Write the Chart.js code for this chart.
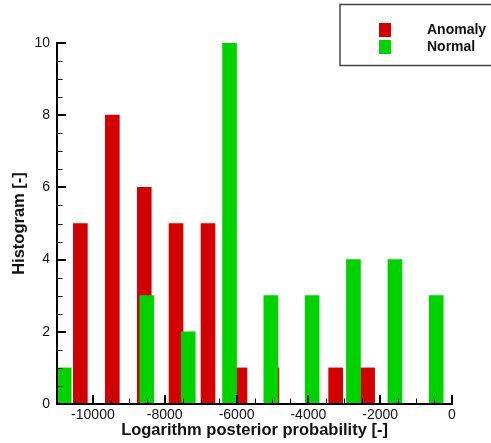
<!DOCTYPE html>
<html>
<head>
<meta charset="utf-8">
<script src="https://cdn.jsdelivr.net/npm/chart.js@4/dist/chart.umd.min.js"></script>
<style>
  html, body { margin: 0; padding: 0; background: #fff; }
  #wrap { width: 491px; height: 443px; }
</style>
</head>
<body>
<div id="wrap"><canvas id="histChart"></canvas></div>
<script>
// histogram bin centres and counts
const anomalyBins = [-10350, -9460, -8570, -7685, -6795, -5905, -5015, -4125, -3240, -2350];
const anomalyCounts = [5, 8, 6, 5, 5, 1, 1, 0, 1, 1];
const normalBins = [-10800, -9650, -8500, -7345, -6195, -5045, -3895, -2745, -1590, -440];
const normalCounts = [1, 0, 3, 2, 10, 3, 3, 4, 4, 3];

const xTickValues = [-10000, -8000, -6000, -4000, -2000, 0];
const yTickValues = [0, 2, 4, 6, 8, 10];

const FONT = '"Liberation Sans", Arial, Helvetica, sans-serif';

function toPoints(xs, ys) {
    return xs.map((x, i) => ({ x: x, y: ys[i] }));
}

// axes drawn tecplot style: lines with ticks pointing inward
const axisPlugin = {
    id: 'axisPlugin',
    afterDatasetsDraw(chart) {
        const ctx = chart.ctx;
        const x = chart.scales.x;
        const y = chart.scales.y;
        const area = chart.chartArea;
        ctx.save();
        ctx.strokeStyle = '#000';
        ctx.lineCap = 'square';

        // minor ticks
        ctx.lineWidth = 1;
        ctx.beginPath();
        for (let v = y.min; v <= y.max; v += 0.5) {
            if (v % 2 === 0) continue;
            const py = Math.round(y.getPixelForValue(v)) + 0.5;
            ctx.moveTo(area.left, py);
            ctx.lineTo(area.left + 5, py);
        }
        for (let v = x.min; v <= x.max; v += 500) {
            if (v % 2000 === 0) continue;
            const px = Math.round(x.getPixelForValue(v)) + 0.5;
            ctx.moveTo(px, area.bottom);
            ctx.lineTo(px, area.bottom - 5);
        }
        ctx.stroke();

        // major ticks
        ctx.lineWidth = 2;
        ctx.beginPath();
        yTickValues.forEach(v => {
            const py = Math.round(y.getPixelForValue(v));
            ctx.moveTo(area.left, py);
            ctx.lineTo(area.left + 8, py);
        });
        xTickValues.forEach(v => {
            const px = Math.round(x.getPixelForValue(v));
            ctx.moveTo(px, area.bottom);
            ctx.lineTo(px, area.bottom - 8);
        });
        ctx.stroke();

        // axis lines
        ctx.beginPath();
        ctx.moveTo(area.left, y.getPixelForValue(y.max));
        ctx.lineTo(area.left, area.bottom);
        ctx.lineTo(x.getPixelForValue(x.max), area.bottom);
        ctx.stroke();
        ctx.restore();
    }
};

// boxed legend in the top right corner
const legendBox = {
    id: 'legendBox',
    afterDraw(chart) {
        const ctx = chart.ctx;
        ctx.save();
        ctx.strokeStyle = '#444';
        ctx.lineWidth = 1.5;
        ctx.strokeRect(340, 4.5, 170, 61);

        ctx.font = 'bold 14px ' + FONT;
        ctx.textBaseline = 'middle';
        ctx.textAlign = 'left';
        chart.data.datasets.forEach((ds, i) => {
            const top = 23 + i * 17;
            ctx.fillStyle = ds.backgroundColor;
            ctx.fillRect(379, top, 12, 14);
            ctx.fillStyle = '#111';
            ctx.fillText(ds.label, 427, top + 7);
        });
        ctx.restore();
    }
};

new Chart(document.getElementById('histChart'), {
    type: 'bar',
    data: {
        datasets: [{
            label: 'Anomaly',
            data: toPoints(anomalyBins, anomalyCounts),
            backgroundColor: '#d20000',
            order: 2
        }, {
            label: 'Normal',
            data: toPoints(normalBins, normalCounts),
            backgroundColor: '#00d200',
            order: 1
        }]
    },
    options: {
        responsive: true,
        maintainAspectRatio: false,
        animation: false,
        grouped: false,
        barThickness: 14,
        borderWidth: 0,
        layout: {
            padding: { top: 43, right: 39, bottom: 0, left: 0 }
        },
        plugins: {
            legend: { display: false },
            tooltip: { enabled: false }
        },
        scales: {
            x: {
                type: 'linear',
                offset: false,
                min: -11000,
                max: 0,
                afterFit: s => { s.height = 39; },
                afterBuildTicks: s => { s.ticks = xTickValues.map(v => ({ value: v })); },
                grid: { display: false, drawTicks: false, offset: false },
                border: { display: false },
                ticks: {
                    color: '#111',
                    padding: 3,
                    maxRotation: 0,
                    callback: v => String(v),
                    font: { family: FONT, size: 14 }
                },
                title: {
                    display: true,
                    text: 'Logarithm posterior probability [-]',
                    color: '#111',
                    padding: { top: 0, bottom: 3 },
                    font: { family: FONT, size: 16.5, weight: 'bold' }
                }
            },
            y: {
                min: 0,
                max: 10,
                afterFit: s => { s.width = 57; },
                afterBuildTicks: s => { s.ticks = yTickValues.map(v => ({ value: v })); },
                grid: { display: false, drawTicks: false },
                border: { display: false },
                ticks: {
                    color: '#111',
                    padding: 7,
                    font: { family: FONT, size: 14 }
                },
                title: {
                    display: true,
                    text: 'Histogram [-]',
                    color: '#111',
                    padding: { top: 10, bottom: 0 },
                    font: { family: FONT, size: 16.5, weight: 'bold' }
                }
            }
        }
    },
    plugins: [axisPlugin, legendBox]
});
</script>
</body>
</html>
